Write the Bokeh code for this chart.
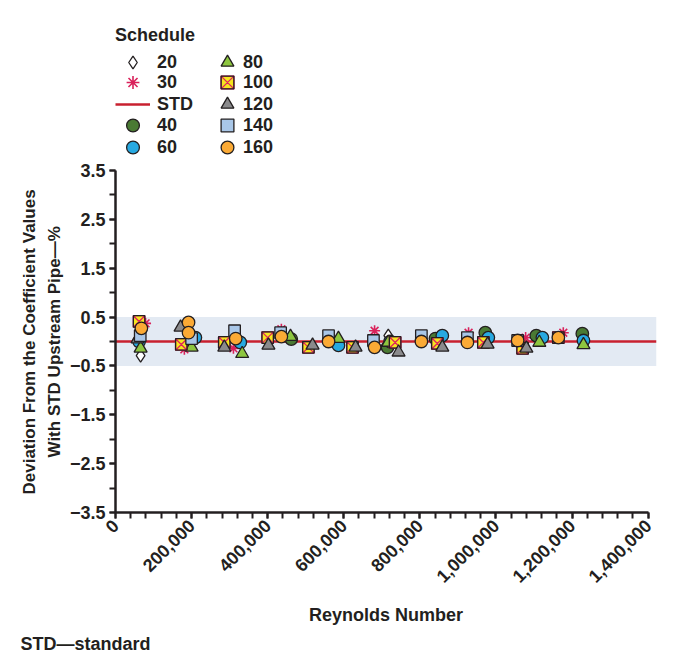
import math
from bokeh.plotting import figure
from bokeh.models import (Range1d, FixedTicker, NumeralTickFormatter, CustomJSTickFormatter,
                          BoxAnnotation, Legend, LegendItem, Title)
from bokeh.embed import file_html
from bokeh.resources import INLINE

FONT = "Liberation Sans"
INK = "#231f20"

# ---- data (Reynolds number, deviation %) per pipe schedule ----
re_20 = [66000, 717000]
dev_20 = [-0.29, 0.12]

re_30 = [79000, 181000, 310000, 436000, 681000, 928000, 1078000, 1177000]
dev_30 = [0.37, -0.16, -0.14, 0.25, 0.22, 0.18, 0.08, 0.18]

re_40 = [462000, 715000, 841000, 972000, 1106000, 1227000]
dev_40 = [0.05, -0.12, 0.06, 0.18, 0.12, 0.16]

re_60 = [62000, 210000, 328000, 586000, 722000, 859000, 980000, 1122000, 1230000]
dev_60 = [0.0, 0.08, -0.02, -0.08, 0.0, 0.12, 0.08, 0.08, 0.02]

re_80 = [66000, 200000, 333000, 460000, 586000, 717000, 1114000, 1230000]
dev_80 = [-0.14, -0.12, -0.25, 0.10, 0.06, -0.02, -0.02, -0.07]

re_100 = [62000, 173000, 286000, 400000, 507000, 623000, 735000, 846000, 967000, 1070000, 1164000]
dev_100 = [0.41, -0.06, -0.02, 0.08, -0.12, -0.12, -0.02, -0.04, -0.02, -0.14, 0.08]

re_120 = [58000, 171000, 286000, 402000, 518000, 631000, 744000, 859000, 978000, 1080000]
dev_120 = [0.05, 0.29, -0.12, -0.08, -0.08, -0.12, -0.22, -0.12, -0.06, -0.14]

re_140 = [65000, 200000, 313000, 434000, 560000, 678000, 804000, 925000, 1057000]
dev_140 = [0.12, 0.06, 0.22, 0.18, 0.12, 0.02, 0.12, 0.08, 0.02]

re_160 = [68000, 192000, 192000, 316000, 436000, 560000, 681000, 804000, 925000, 1057000, 1164000]
dev_160 = [0.27, 0.39, 0.18, 0.06, 0.10, 0.0, -0.12, 0.0, -0.02, 0.02, 0.08]

std_dev = 0.0
band_low, band_high = -0.5, 0.5

x_ticks = [0, 200000, 400000, 600000, 800000, 1000000, 1200000, 1400000]
y_ticks = [-3.5, -2.5, -1.5, -0.5, 0.5, 1.5, 2.5, 3.5]

X_START, X_END, AXIS_END = 0, 1422000, 1400000
Y_LOW, Y_HIGH = -3.5, 3.5
Y_TOP = 6.877  # room above the axis for the legend (inside the frame)

p = figure(width=683, height=658,
           x_range=Range1d(X_START, X_END), y_range=Range1d(Y_LOW, Y_TOP),
           output_backend="svg", toolbar_location=None,
           min_border_left=115, min_border_right=27,
           min_border_top=5, min_border_bottom=146)
p.outline_line_color = None
p.grid.visible = False

# band and standard line
p.add_layout(BoxAnnotation(bottom=band_low, top=band_high, fill_color="#e3eaf3",
                           fill_alpha=1.0, line_color=None, level="underlay"))
r_std = p.line([X_START, X_END], [std_dev, std_dev], line_color="#c8202f", line_width=2.6)

OUT = dict(line_color=INK, line_width=1.3)
r20 = p.scatter(re_20, dev_20, marker="diamond", size=13, fill_color="white", **OUT)
r30 = p.scatter(re_30, dev_30, marker="asterisk", size=11, line_color="#d9225b", line_width=1.6)
r40 = p.scatter(re_40, dev_40, marker="circle", size=12.5, fill_color="#4a7a33", **OUT)
r60 = p.scatter(re_60, dev_60, marker="circle", size=12.5, fill_color="#27a9e1", **OUT)
r80 = p.scatter(re_80, dev_80, marker="triangle", size=13, fill_color="#8dc63f", **OUT)
r100a = p.scatter(re_100, dev_100, marker="square_x", size=11.5, fill_color="#f5e61e",
                  line_color="#e0245e", line_width=1.3)
r100b = p.scatter(re_100, dev_100, marker="square", size=11.5, fill_color=None, **OUT)
r120 = p.scatter(re_120, dev_120, marker="triangle", size=13, fill_color="#8a8a8c", **OUT)
r140 = p.scatter(re_140, dev_140, marker="square", size=11.5, fill_color="#a9c7e8", **OUT)
r160 = p.scatter(re_160, dev_160, marker="circle", size=12.5, fill_color="#fbaa35", **OUT)

# axes
xa = p.xaxis[0]
xa.ticker = FixedTicker(ticks=x_ticks, minor_ticks=list(range(0, AXIS_END + 1, 40000)))
xa.formatter = NumeralTickFormatter(format="0,0")
xa.bounds = (0, AXIS_END)
xa.major_label_orientation = math.pi / 4
xa.axis_label = "Reynolds Number"
xa.axis_label_standoff = 14
xa.axis_label_text_font_size = "18px"

ya = p.yaxis[0]
ya.ticker = FixedTicker(ticks=y_ticks, minor_ticks=[v / 2 for v in range(-7, 8)])
ya.formatter = CustomJSTickFormatter(
    code="return (tick < 0 ? '\\u2212' : '') + Math.abs(tick).toFixed(1);")
ya.bounds = (Y_LOW, Y_HIGH)

for ax in (xa, ya):
    ax.axis_line_color = INK
    ax.axis_line_width = 2.5
    ax.major_tick_line_color = INK
    ax.minor_tick_line_color = INK
    ax.major_tick_line_width = 2
    ax.minor_tick_line_width = 2
    ax.major_tick_in = 0
    ax.minor_tick_in = 0
    ax.major_tick_out = 6
    ax.minor_tick_out = 6
    ax.major_label_text_font = FONT
    ax.major_label_text_font_style = "bold"
    ax.major_label_text_font_size = "18px"
    ax.major_label_text_color = INK
    ax.axis_label_text_font = FONT
    ax.axis_label_text_font_style = "bold"
    ax.axis_label_text_color = INK
ya.major_label_standoff = 4
xa.major_label_standoff = 4

# y-axis title: two lines, each centred on the -3.5..3.5 axis (not on the taller frame)
ylab_inner = Title(text="With STD Upstream Pipe\u2014%", align="left", offset=55,
                   vertical_align="bottom", standoff=6,
                   text_font=FONT, text_font_style="bold", text_font_size="17px",
                   text_color=INK)
ylab_outer = Title(text="Deviation From the Coefficient Values", align="left", offset=18,
                   vertical_align="middle", standoff=0,
                   text_font=FONT, text_font_style="bold", text_font_size="17px",
                   text_color=INK)
p.add_layout(ylab_inner, "left")
p.add_layout(ylab_outer, "left")

# legend: one small legend per entry, laid out in two columns
col1 = [("20", [r20]), ("30", [r30]), ("STD", [r_std]), ("40", [r40]), ("60", [r60])]
col2 = [("80", [r80]), ("100", [r100a, r100b]), ("120", [r120]), ("140", [r140]), ("160", [r160])]
row_px = [62, 82, 104, 125, 147]      # row centres, pixels from the top of the page
FRAME_BOTTOM_PX = 512


def add_entry(label, rends, vx, centre, gw, standoff, title=None):
    lg = Legend(items=[LegendItem(label=label, renderers=rends)],
                location=(vx, FRAME_BOTTOM_PX - centre - 16),
                glyph_width=gw, glyph_height=32, label_standoff=standoff,
                label_height=20, spacing=0, padding=0, margin=0,
                border_line_color=None, background_fill_alpha=0,
                label_text_font=FONT, label_text_font_style="bold",
                label_text_font_size="18px", label_text_color=INK)
    if title:
        lg.title = title
        lg.title_text_font = FONT
        lg.title_text_font_style = "bold"
        lg.title_text_font_size = "18px"
        lg.title_text_color = INK
        lg.title_standoff = 0
    p.add_layout(lg)


for i, (lab, rends) in enumerate(col1):
    add_entry(lab, rends, 0, row_px[i], 35, 7, title="Schedule" if i == 0 else None)
for i, (lab, rends) in enumerate(col2):
    add_entry(lab, rends, 96, row_px[i], 32, 0)

note = Title(text="STD\u2014standard", align="left", offset=-95, standoff=6,
             text_font=FONT, text_font_style="bold", text_font_size="18px", text_color=INK)
p.add_layout(note, "below")

open("out.html", "w").write(file_html(p, INLINE))
